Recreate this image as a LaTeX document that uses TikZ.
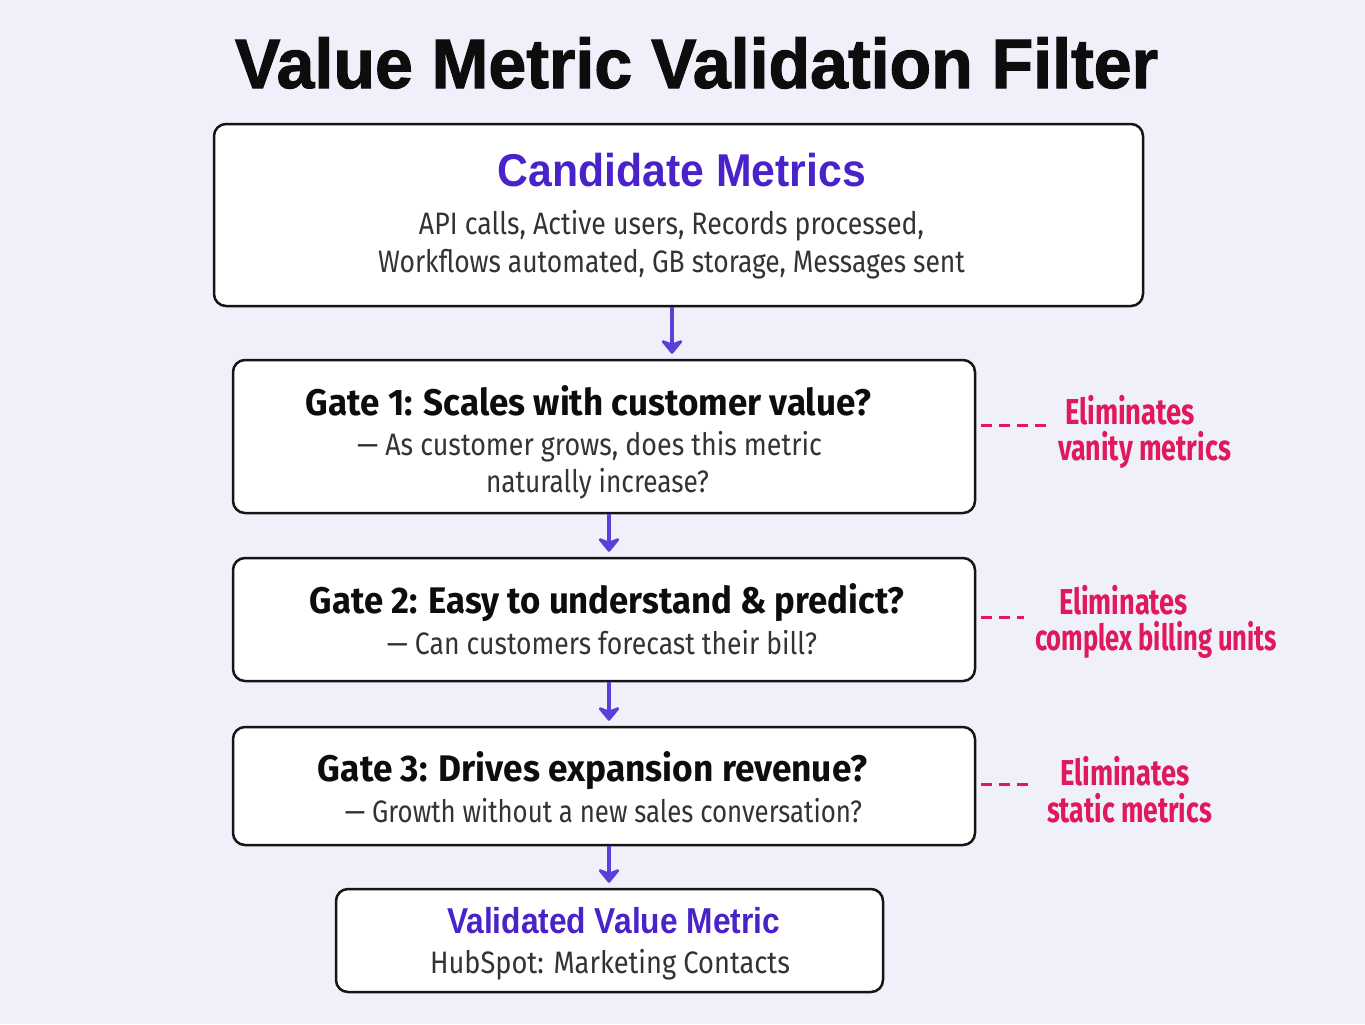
\documentclass[tikz,border=0pt]{standalone}
\usepackage{fontspec}
\setmainfont{Fira Sans}
\newfontfamily\headfont{Liberation Sans}
\newfontfamily\titlefont{Liberation Sans}[BoldFeatures={FakeBold=1.6}]
\usetikzlibrary{arrows.meta}
\newlength\pxu \setlength\pxu{0.5pt}
\newcommand\fitw[2]{\resizebox{#1\pxu}{\height}{#2}}
\definecolor{bg}{HTML}{EFF0FA}
\definecolor{vio}{HTML}{4A22C9}
\definecolor{arrc}{HTML}{5B3FD8}
\definecolor{pink}{HTML}{E0195C}
\definecolor{body}{HTML}{333333}
\definecolor{edge}{HTML}{151515}
\begin{document}
\begin{tikzpicture}[x=0.5pt,y=-0.5pt,
  box/.style={draw=edge, line width=1.25pt, rounded corners=6pt, fill=white, inner sep=0pt},
  txt/.style={anchor=base, inner sep=0pt},
  ttl/.style={txt, font=\titlefont\bfseries\fontsize{35}{40}\selectfont, text=black!95},
  head/.style={txt, font=\headfont\bfseries\fontsize{23}{28}\selectfont, text=vio},
  gate/.style={txt, font=\bfseries\fontsize{18.5}{22}\selectfont, text=black!95},
  sub/.style={txt, font=\fontsize{15.5}{19}\selectfont, text=body},
  fin/.style={txt, font=\headfont\bfseries\fontsize{18}{22}\selectfont, text=vio},
  elim/.style={txt, font=\bfseries\fontsize{18}{22}\selectfont, text=pink},
  arr/.style={draw=arrc, line width=1.7pt, -{Stealth[length=8pt,width=13pt,inset=2.5pt,round]}, shorten >=2.5pt},
  dsh/.style={draw=pink, line width=1.5pt, dash pattern=on 5.5pt off 3.5pt, shorten <=2.5pt}]
\useasboundingbox[fill=bg] (0,0) rectangle (1365,1024);

\node[ttl] (title) at (696.5,88) {\fitw{923}{Value Metric Validation Filter}};

\node[box, minimum width=929\pxu, minimum height=182\pxu] (cand) at (678.5,215) {};
\node[head] (candt) at (682,186) {\fitw{368}{Candidate Metrics}};
\node[sub] (cand1) at (671.5,234) {\fitw{505}{API calls, Active users, Records processed,}};
\node[sub] (cand2) at (671.5,272) {\fitw{587}{Workflows automated, GB storage, Messages sent}};

\node[box, minimum width=742\pxu, minimum height=153\pxu] (g1) at (604,436.5) {};
\node[gate] (g1t) at (588.5,415) {\fitw{565}{Gate 1: Scales with customer value?}};
\node[sub] (g1a) at (589.5,455) {\fitw{465}{— As customer grows, does this metric}};
\node[sub] (g1b) at (597.5,492) {\fitw{223}{naturally increase?}};

\node[box, minimum width=742\pxu, minimum height=123\pxu] (g2) at (604,619.5) {};
\node[gate] (g2t) at (607,613) {\fitw{594}{Gate 2: Easy to understand \& predict?}};
\node[sub] (g2a) at (602,654) {\fitw{430}{— Can customers forecast their bill?}};

\node[box, minimum width=742\pxu, minimum height=118\pxu] (g3) at (604,786) {};
\node[gate] (g3t) at (592.5,781) {\fitw{549}{Gate 3: Drives expansion revenue?}};
\node[sub] (g3a) at (603.5,822) {\fitw{517}{— Growth without a new sales conversation?}};

\node[box, minimum width=547\pxu, minimum height=103\pxu] (fin) at (609.5,940.5) {};
\node[fin] (fint) at (613.5,933) {\fitw{333}{Validated Value Metric}};
\node[sub] (fina) at (610,973) {\fitw{360}{HubSpot: Marketing Contacts}};

\coordinate (a0) at (672,0);
\coordinate (a1) at (609,0);
\draw[arr] (cand.south -| a0) -- (g1.north -| a0);
\draw[arr] (g1.south -| a1) -- (g2.north -| a1);
\draw[arr] (g2.south -| a1) -- (g3.north -| a1);
\draw[arr] (g3.south -| a1) -- (fin.north -| a1);

\node[elim] (e1a) at (1130,424) {\fitw{130}{Eliminates}};
\node[elim] (e1b) at (1144.5,460) {\fitw{173}{vanity metrics}};
\node[elim] (e2a) at (1123.5,614) {\fitw{129}{Eliminates}};
\node[elim] (e2b) at (1156,650) {\fitw{242}{complex billing units}};
\node[elim] (e3a) at (1125,785) {\fitw{130}{Eliminates}};
\node[elim] (e3b) at (1129.5,822) {\fitw{165}{static metrics}};

\coordinate (d1) at (1046,425);
\coordinate (d2) at (1024,617);
\coordinate (d3) at (1030,784);
\draw[dsh] (g1.east |- d1) -- (d1);
\draw[dsh] (g2.east |- d2) -- (d2);
\draw[dsh] (g3.east |- d3) -- (d3);
\end{tikzpicture}
\end{document}
